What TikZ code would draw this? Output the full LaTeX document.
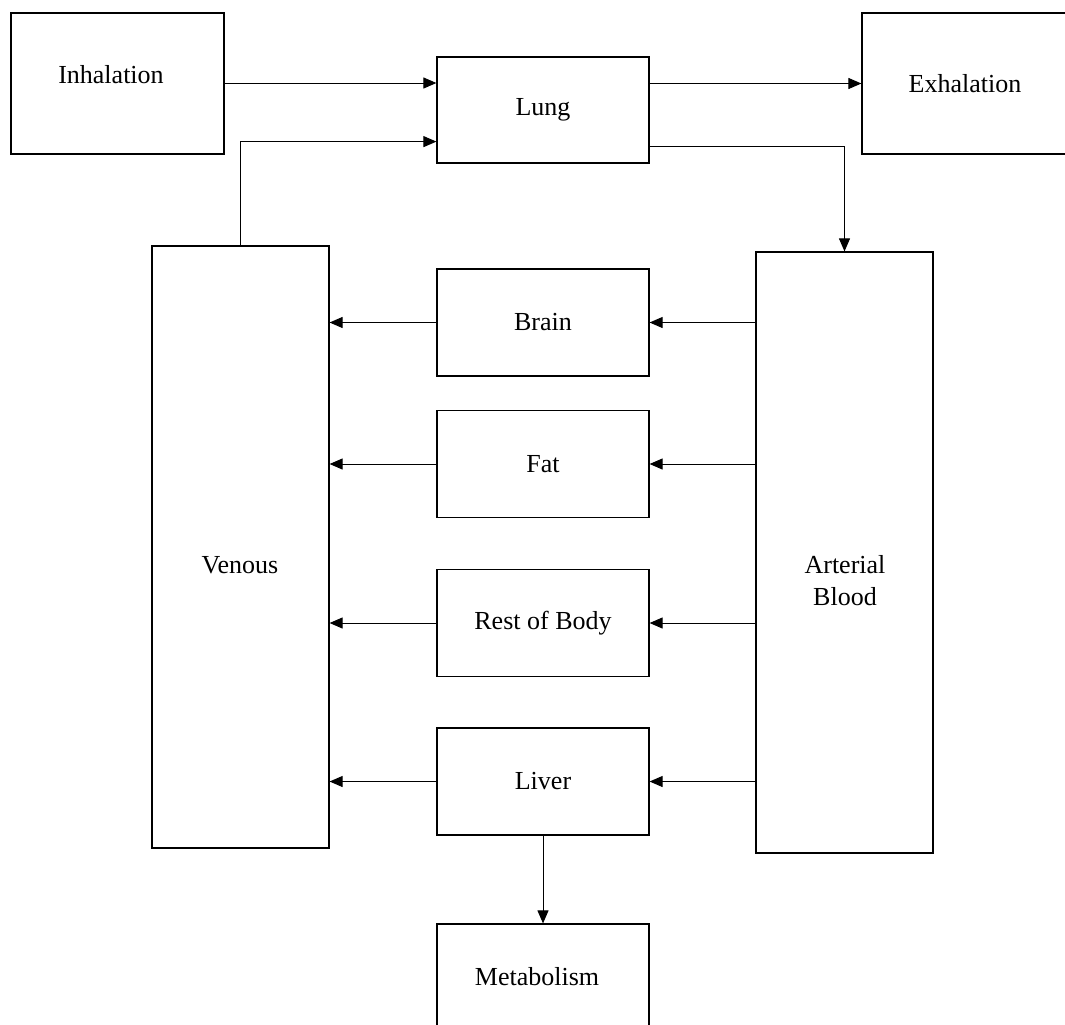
\documentclass[tikz,border=0pt]{standalone}
\usepackage{fontspec}
\setmainfont{Liberation Serif}
\usetikzlibrary{arrows.meta,calc}
\tikzset{
    box/.style={draw, line width=0.6pt, rectangle, inner sep=0pt, font=\fontsize{13}{16}\selectfont},
    organ/.style={box, minimum width=106pt, minimum height=53.5pt},
    txt/.style={inner sep=0pt, align=center, font=\fontsize{13}{16}\selectfont},
    flow/.style={line width=0.5pt, -{Triangle[length=6.5pt,width=5.5pt]}}
}
\begin{document}
\begin{tikzpicture}[x=0.5pt,y=-0.5pt]
\clip (0,0) rectangle (1065,1024); % page frame
\node[box, minimum width=106.5pt, minimum height=70.5pt] (inhal) at (117.5,83.5) {}; % inhalation box
\node[txt] (inhaltxt) at (111,75) {Inhalation};
\node[box, minimum width=106pt, minimum height=53pt] (lung) at (543,110) {Lung}; % lung
\node[box, minimum width=103pt, minimum height=70.5pt] (exhal) at (965,83.5) {Exhalation}; % exhalation box (cut at right)
\node[box, minimum width=88.5pt, minimum height=301pt] (venous) at (240.5,547) {}; % venous column
\node[txt] (venoustxt) at (240,565) {Venous};
\node[box, minimum width=88.5pt, minimum height=300.5pt] (arterial) at (844.5,552.5) {}; % arterial column
\node[txt] (arterialtxt) at (845,581) {Arterial\\Blood};
\node[organ] (brain) at (543,322.5) {Brain}; % organs
\node[organ] (fat) at (543,464) {Fat};
\node[organ] (rest) at (543,623) {Rest of Body};
\node[organ] (liver) at (543,781.5) {Liver};
\node[box, minimum width=106pt, minimum height=58pt] (metab) at (543,982) {}; % metabolism box (cut at bottom)
\node[txt] (metabtxt) at (537,977) {Metabolism};
\draw[flow] (inhal.east |- lung.west) ++(0,-27) coordinate (inA) -- (inA -| lung.west); % inhalation to lung
\draw[flow] (lung.east |- exhal.west) -- (exhal.west); % lung to exhalation
\draw[flow] (venous.north) |- ($(lung.south west)+(0,-22)$); % venous back to lung
\draw[flow] ($(lung.south east)+(0,-17)$) -| (arterial.north); % lung to arterial blood
\draw[flow] (arterial.west |- brain) -- (brain.east); % arterial to brain
\draw[flow] (brain.west) -- (brain -| venous.east); % brain to venous
\draw[flow] (arterial.west |- fat) -- (fat.east); % arterial to fat
\draw[flow] (fat.west) -- (fat -| venous.east); % fat to venous
\draw[flow] (arterial.west |- rest) -- (rest.east); % arterial to rest
\draw[flow] (rest.west) -- (rest -| venous.east); % rest to venous
\draw[flow] (arterial.west |- liver) -- (liver.east); % arterial to liver
\draw[flow] (liver.west) -- (liver -| venous.east); % liver to venous
\draw[flow] (liver.south) -- (metab.north); % liver to metabolism
\end{tikzpicture}
\end{document}
